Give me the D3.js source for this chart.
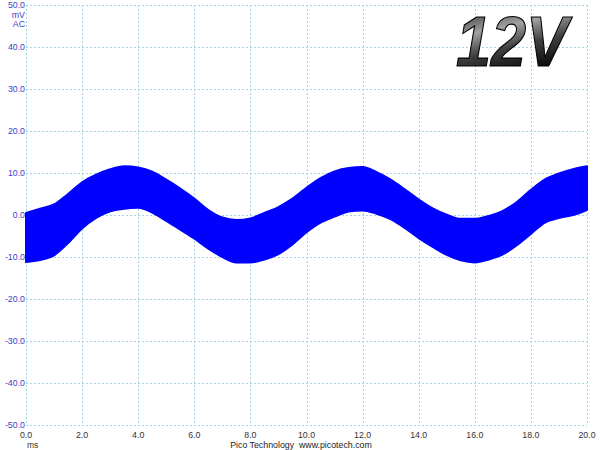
<!DOCTYPE html>
<html><head><meta charset="utf-8">
<script src="https://cdn.jsdelivr.net/npm/d3@7"></script>
<style>html,body{margin:0;padding:0;background:#fff;}svg{display:block;font-family:"Liberation Sans",Arial,sans-serif;}</style>
</head><body><svg id="c" width="600" height="450"></svg>
<script>
const times = [0,0.5,1,1.5,2,2.5,3,3.5,4,4.5,5,5.5,6,6.5,7,7.5,8,8.5,9,9.5,10,10.5,11,11.5,12,12.5,13,13.5,14,14.5,15,15.5,16,16.5,17,17.5,18,18.5,19,19.5,20];
const upper = [0.5,1.5,2.5,5.0,7.8,9.6,10.9,11.6,11.3,10.3,8.4,6.3,3.9,1.2,-0.6,-1.2,-0.8,0.5,1.9,3.9,6.5,8.8,10.4,11.2,11.4,10.2,8.4,6.1,3.7,1.6,0.1,-0.9,-0.9,-0.2,1.0,3.1,6.0,8.5,9.9,10.9,11.6];
const lower = [-11.2,-10.7,-9.6,-6.7,-3.2,-0.7,0.9,1.5,1.7,0.6,-1.4,-3.5,-5.6,-8.0,-10.0,-11.3,-11.3,-10.6,-9.3,-7.0,-4.1,-1.8,-0.4,0.8,1.1,0.3,-1.0,-3.1,-5.5,-7.6,-9.5,-10.8,-11.3,-10.6,-9.4,-7.2,-4.5,-1.8,-0.7,0.0,1.2];
const xTicks = [0,2,4,6,8,10,12,14,16,18,20];
const yTicks = [50,40,30,20,10,0,-10,-20,-30,-40,-50];
const unitLabels = ["mV","AC"];
const xUnit = "ms";
const footer = "Pico Technology  www.picotech.com";
const title = "12V";

const svg = d3.select("#c");
const x = d3.scaleLinear().domain([0,20]).range([26,587]);
const y = d3.scaleLinear().domain([-50,50]).range([425,5]);

const defs = svg.append("defs");
const g = defs.append("linearGradient").attr("id","tg").attr("x1","0").attr("y1","0").attr("x2","0.35").attr("y2","1");
g.append("stop").attr("offset","0").attr("stop-color","#151515");
g.append("stop").attr("offset","0.4").attr("stop-color","#a0a0a0");
g.append("stop").attr("offset","0.65").attr("stop-color","#404040");
g.append("stop").attr("offset","1").attr("stop-color","#050505");

// grid
const grid = svg.append("g").attr("stroke","#a9d3e3").attr("stroke-width",1).attr("stroke-dasharray","2,2");
grid.selectAll("line.v").data(xTicks).join("line").attr("class","v")
  .attr("x1",d=>Math.round(x(d))+0.5).attr("x2",d=>Math.round(x(d))+0.5).attr("y1",y(50)).attr("y2",y(-50));
grid.selectAll("line.h").data(yTicks).join("line").attr("class","h")
  .attr("y1",d=>Math.round(y(d))+0.5).attr("y2",d=>Math.round(y(d))+0.5).attr("x1",x(0)).attr("x2",x(20));

// waveform band
const data = times.map((t,i)=>({t,u:upper[i],l:lower[i]}));
svg.append("path").datum(data)
  .attr("d", d3.area().x(d=>x(d.t)).y0(d=>y(d.l)).y1(d=>y(d.u)).curve(d3.curveMonotoneX))
  .attr("fill","#0000ff").attr("stroke","#0000ff").attr("stroke-width",2).attr("stroke-linejoin","round");

// y labels
const yc = "#4040c8";
svg.append("g").selectAll("text").data(yTicks).join("text")
  .attr("x",25).attr("y",d=>Math.min(Math.max(y(d)+3,8),428)).attr("text-anchor","end")
  .attr("font-size",8.8).attr("fill",yc).text(d=>d.toFixed(1));
svg.append("g").selectAll("text").data(unitLabels).join("text")
  .attr("x",25).attr("y",(d,i)=>18+i*9).attr("text-anchor","end")
  .attr("font-size",8.8).attr("fill",yc).text(d=>d);

// x labels
svg.append("g").selectAll("text").data(xTicks).join("text")
  .attr("x",d=>x(d)).attr("y",437.5).attr("text-anchor","middle")
  .attr("font-size",8.8).attr("fill","#333").text(d=>d.toFixed(1));
svg.append("text").attr("x",27).attr("y",447.5).attr("font-size",8.5).attr("fill","#333").text(xUnit);
svg.append("text").attr("x",301).attr("y",447.5).attr("text-anchor","middle").attr("font-size",8.8)
  .attr("fill","#222").attr("xml:space","preserve").style("white-space","pre").text(footer);

// title
svg.append("text").attr("transform","translate(568,66) scale(0.9,1)").attr("text-anchor","end")
  .attr("font-size",70).attr("font-weight","bold").attr("font-style","italic")
  .attr("fill","url(#tg)").attr("stroke","#000").attr("stroke-width",1.2).text(title);
</script></body></html>
